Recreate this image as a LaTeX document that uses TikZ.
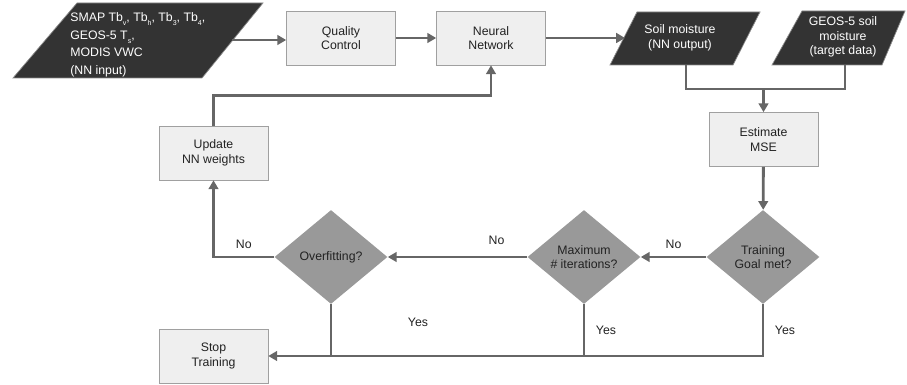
\documentclass[tikz,border=0pt]{standalone}
\usepackage{fontspec}
\setmainfont{Liberation Sans}
\usetikzlibrary{
    arrows.meta,             % For arrow tips
    positioning,             % For relative placement of nodes
    shapes.geometric         % For the decision diamonds
}
\definecolor{linegray}{HTML}{666666}
\definecolor{boxfill}{HTML}{EFEFEF}
\definecolor{boxborder}{HTML}{A0A0A0}
\definecolor{diamondgray}{HTML}{999999}
\definecolor{darkio}{HTML}{333333}
\definecolor{ioborder}{HTML}{8A8A8A}
\definecolor{textdark}{HTML}{222222}
\newcommand{\tinysub}[1]{\raisebox{-2.2pt}{\fontsize{4}{4}\selectfont #1}}

\begin{document}
\begin{tikzpicture}[
    x=0.02cm, y=-0.02cm,
    font=\fontsize{7}{8.4}\selectfont,
    arrow/.style={-{Triangle[length=5pt,width=5.5pt]}, line width=1.6pt, draw=linegray},
    flowline/.style={line width=1.6pt, draw=linegray},
    procbox/.style={
        draw=boxborder,
        fill=boxfill,
        minimum width=2.18cm,
        minimum height=1.08cm,
        align=center,
        text=textdark,
        inner sep=2pt
    },
    decision/.style={
        diamond,
        fill=diamondgray,
        minimum width=2.26cm,
        minimum height=1.88cm,
        align=center,
        text=textdark,
        inner sep=0pt
    },
    iofill/.style={fill=darkio, draw=ioborder, line width=0.4pt},
    iotext/.style={text=white, align=center, inner sep=0pt},
    lbl/.style={text=textdark, inner sep=1pt}
]
    \useasboundingbox (0,0) rectangle (907,385);

    % --- Input / output shapes ---
    \fill[iofill] (77,3) -- (263,3) -- (202,78) -- (13,78) -- cycle;
    \node[iotext, align=left, anchor=west, font=\fontsize{7}{10}\selectfont] (inp) at (70,45)
        {SMAP Tb\tinysub{v}, Tb\tinysub{h}, Tb\tinysub{3}, Tb\tinysub{4},\\
         GEOS-5 T\tinysub{s},\\ MODIS VWC\\ (NN input)};
    \fill[iofill] (637,12) -- (760,12) -- (733,65) -- (610,65) -- cycle;
    \node[iotext] (soil) at (680,38) {Soil moisture\\(NN output)};
    \fill[iofill] (802,11) -- (905,11) -- (882,65) -- (772,65) -- cycle;
    \node[iotext] (geos) at (843,37) {GEOS-5 soil\\moisture\\(target data)};

    % --- Process boxes ---
    \node[procbox] (qc) at (341,38) {Quality\\Control};
    \node[procbox] (nn) at (491,38) {Neural\\Network};
    \node[procbox] (update) at (213.5,153) {Update\\NN weights};
    \node[procbox] (mse) at (763.5,139.5) {Estimate\\MSE};
    \node[procbox] (stop) at (213.5,356) {Stop\\Training};

    % --- Decisions ---
    \node[decision] (goal) at (763,257) {Training\\Goal met?};
    \node[decision] (maxit) at (584,257) {Maximum\\\# iterations?};
    \node[decision] (overfit) at (331,257) {Overfitting?};

    % --- Connectors ---
    \coordinate (inp-out) at (232,40);
    \coordinate (soil-in) at (625,38);
    \coordinate (soil-out) at (686,65);
    \coordinate (geos-out) at (845,65);
    \coordinate (merge) at (763.5,89);
    \draw[arrow] (inp-out) -- (inp-out -| qc.west);
    \draw[arrow] (qc) -- (nn);
    \draw[arrow] (nn.east) -- (soil-in);
    \draw[flowline] (soil-out) |- (merge) -| (geos-out);
    \draw[arrow] (merge) -- (mse);
    \draw[arrow] (mse) -- (goal);
    \draw[arrow] (goal.west) -- node[lbl, above=3pt] {No} (maxit.east);
    \draw[arrow] (maxit.west) -- node[lbl, above=5pt, pos=0.22] {No} (overfit.east);
    \draw[arrow] (overfit.west) -- node[lbl, above=3pt] {No} (overfit.west -| update.south) -- (update.south);
    \draw[arrow] (update.north) -- ++(0,-30) -| (nn.south);
    \draw[arrow] (goal.south) |- node[lbl, pos=0.25, right=5pt] {Yes} (stop.east);
    \draw[flowline] (maxit.south) -- node[lbl, right=5pt] {Yes} (maxit.south |- stop.east);
    \draw[flowline] (overfit.south) -- (overfit.south |- stop.east);
    \node[lbl] (yes-over) at (418,322) {Yes};

\end{tikzpicture}
\end{document}
